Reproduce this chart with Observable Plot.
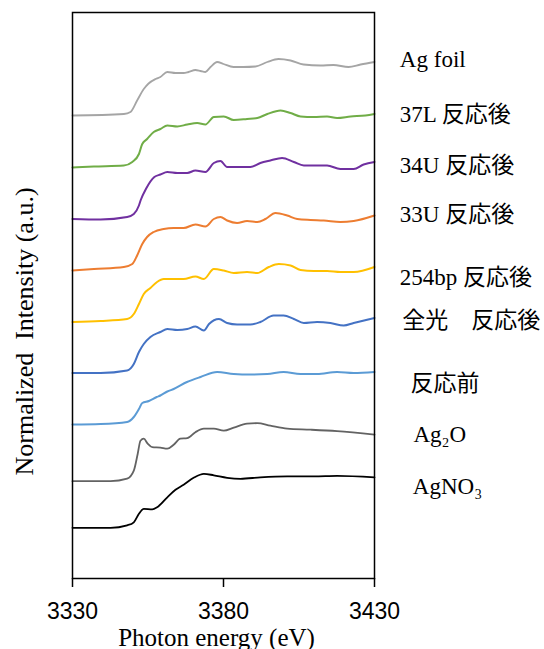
<!DOCTYPE html>
<html>
<head>
<meta charset="utf-8">
<script src="https://cdn.jsdelivr.net/npm/d3@7"></script>
<script src="https://cdn.jsdelivr.net/npm/@observablehq/plot@0.6"></script>
<style>
  html, body { margin: 0; padding: 0; background: #fff; }
</style>
</head>
<body>
<div id="chart"></div>
<script>
// ---- Data: [photon energy (eV), normalized intensity] ----
const agFoil = [[3330,0],[3347,0.03],[3349.2,0.07],[3351.4,0.30],[3353.6,0.53],[3355.2,0.64],[3357.5,0.73],[3359.1,0.77],[3361.4,0.87],[3364.1,0.85],[3366.8,0.85],[3368.4,0.87],[3370.7,0.91],[3372.4,0.89],[3374,0.87],[3375.7,0.97],[3377.9,1.07],[3380,1.03],[3383.3,0.97],[3386.6,0.97],[3390.6,0.98],[3394.5,1.07],[3398.2,1.13],[3402.2,1.10],[3406.5,1.02],[3412.1,1.00],[3416.4,1.01],[3421.4,0.97],[3425.4,1.02],[3430,1.07]];
const s37L = [[3330,0],[3337.1,0.02],[3347,0.04],[3349.8,0.11],[3352,0.27],[3353.1,0.47],[3354.7,0.57],[3356.9,0.71],[3359.1,0.77],[3361.4,0.84],[3364.7,0.82],[3368,0.86],[3371.3,0.89],[3374,0.86],[3376.8,1.01],[3380.1,1.02],[3383.4,0.95],[3387.8,0.97],[3391.2,0.99],[3394.5,1.07],[3398.9,1.14],[3402.2,1.09],[3405.5,1.02],[3409.9,1.01],[3414.3,1.02],[3417.6,0.99],[3422.1,1.02],[3427,1.04],[3430,1.07]];
const s34U = [[3330,0],[3339.3,-0.01],[3348.1,0.04],[3350.3,0.10],[3352,0.27],[3352.6,0.38],[3354.3,0.60],[3357.1,0.84],[3359.1,0.89],[3361.4,0.94],[3364.7,0.92],[3368,0.92],[3370.7,0.97],[3374,0.94],[3376.8,1.12],[3379,1.16],[3381.2,1.04],[3384.5,1.04],[3388.9,1.04],[3392.2,1.12],[3395.5,1.17],[3399.4,1.22],[3403.3,1.14],[3406.6,1.07],[3411,1.07],[3414.3,1.07],[3418.7,1.00],[3423.1,1.00],[3426.4,1.09],[3430,1.14]];
const s33U = [[3330,-0.02],[3337.1,0.01],[3347,0.05],[3349.8,0.11],[3351.4,0.28],[3353.1,0.51],[3354.7,0.65],[3356.9,0.75],[3360.2,0.81],[3363.5,0.83],[3366.8,0.83],[3370.7,0.90],[3374,0.86],[3376.8,1.01],[3379,1.05],[3381.2,0.98],[3384.5,0.93],[3387.8,0.97],[3391.2,0.95],[3393.9,1.01],[3397.2,1.13],[3401.1,1.08],[3404.4,1.01],[3408.8,0.99],[3413.2,0.98],[3418.7,0.95],[3423.1,0.97],[3430,1.08]];
const s254bp = [[3330,-0.01],[3339.3,0.01],[3348.1,0.05],[3350.3,0.15],[3352,0.35],[3353.6,0.55],[3355.8,0.67],[3358,0.79],[3360.2,0.85],[3363.5,0.85],[3366.8,0.85],[3370.7,0.90],[3373.5,0.85],[3376.8,1.05],[3380.1,1.02],[3383.4,0.97],[3387.8,0.99],[3391.2,0.97],[3395,1.09],[3398.3,1.15],[3402.2,1.12],[3405.5,1.03],[3409.9,1.01],[3414.3,1.01],[3418.7,0.99],[3423.1,0.99],[3430,1.09]];
const sZenko = [[3330,0],[3339.3,0],[3348.1,0.05],[3350.3,0.18],[3352,0.42],[3353.6,0.58],[3355.8,0.72],[3359.1,0.82],[3361.4,0.88],[3364.7,0.86],[3368,0.88],[3370.7,0.93],[3373.5,0.85],[3375.2,0.98],[3378.5,1.08],[3381.2,1.00],[3384.5,0.97],[3388.9,0.97],[3392.2,1.02],[3396.6,1.15],[3399.9,1.15],[3403.3,1.08],[3406.6,1.00],[3411,1.02],[3415.4,1.00],[3419.8,0.95],[3423.1,1.00],[3430,1.10]];
const sBefore = [[3330,-0.01],[3339.3,0],[3348.1,0.04],[3350.3,0.14],[3352,0.30],[3353.1,0.42],[3355.3,0.46],[3357.9,0.54],[3359.1,0.57],[3361.4,0.65],[3363.5,0.70],[3367.9,0.84],[3372.4,0.94],[3377.9,1.04],[3383.4,1.00],[3388.9,0.99],[3394.5,1.00],[3399.9,1.04],[3405.5,1.00],[3411,1.00],[3417.6,1.04],[3423.1,1.02],[3430,1.04]];
const sAg2O = [[3330,0],[3342.6,0],[3348.1,0.05],[3350.3,0.21],[3351.6,0.55],[3352.5,0.81],[3353.6,0.85],[3354.9,0.75],[3356.4,0.68],[3359.1,0.67],[3361.4,0.65],[3363.5,0.73],[3365.7,0.85],[3368,0.86],[3370.7,0.98],[3373.5,1.05],[3376.8,1.05],[3380.1,1.01],[3383.4,1.07],[3387.8,1.15],[3391.2,1.16],[3395.5,1.11],[3401.1,1.05],[3408.8,1.03],[3417.6,1.00],[3430,0.93]];
const sAgNO3 = [[3330,0],[3342.6,0],[3348.1,0.05],[3350.3,0.11],[3352,0.28],[3353.6,0.38],[3356.4,0.37],[3358,0.41],[3361.4,0.61],[3364.1,0.76],[3366.8,0.86],[3370.1,1.00],[3373.5,1.08],[3376.8,1.05],[3381.2,1.00],[3385.6,0.98],[3392.2,1.01],[3401.1,1.03],[3409.9,1.03],[3417.6,1.04],[3430,1.01]];

const seriesNames = ["Ag foil", "37L 反応後", "34U 反応後", "33U 反応後", "254bp 反応後", "全光　反応後", "反応前", "Ag₂O", "AgNO₃"];
const seriesData = [agFoil, s37L, s34U, s33U, s254bp, sZenko, sBefore, sAg2O, sAgNO3];
const seriesOffsets = [9.26, 8.22, 7.19, 6.18, 5.14, 4.11, 3.09, 1.946, 1.014];
const seriesColors = ["#A5A5A5", "#70AD47", "#7030A0", "#ED7D31", "#FFC000", "#4472C4", "#5B9BD5", "#636363", "#000000"];
const noisy = [false, true, true, true, true, true, true, false, false];
// label anchor positions (data units)
const labelX = [3438.4, 3438.4, 3438.4, 3438.4, 3438.4, 3439.2, 3441.9, 3442.9, 3442.7];
const labelY = [10.38, 9.28, 8.26, 7.28, 6.02, 5.16, 3.90, 2.88, 1.84];
const xTicks = [3330, 3380, 3430];

const rows = seriesData.flatMap((pts, i) =>
  pts.map(([e, v]) => ({series: seriesNames[i], energy: e, value: seriesOffsets[i] + v, color: seriesColors[i], noisy: noisy[i]}))
);
const labels = seriesNames.map((name, i) => ({name, x: labelX[i], y: labelY[i]}));

const serif = "'Liberation Serif', 'DejaVu Serif', 'Noto Sans CJK JP', serif";

const chart = Plot.plot({
  width: 544,
  height: 649,
  marginTop: 12,
  marginBottom: 71,
  marginLeft: 72,
  marginRight: 170,
  style: {background: "#fff", fontFamily: serif},
  x: {domain: [3330, 3430]},
  y: {domain: [0, 11.32], axis: null},
  marks: [
    Plot.line(rows.filter(d => d.noisy), {x: "energy", y: "value", z: "series", stroke: "color", strokeWidth: 2, curve: "monotone-x"}),
    Plot.line(rows.filter(d => !d.noisy), {x: "energy", y: "value", z: "series", stroke: "color", strokeWidth: 1.8, curve: "monotone-x"}),
    Plot.frame({stroke: "#000", strokeWidth: 1.5}),
    Plot.axisX({ticks: xTicks, tickFormat: "d", tickSize: 9, tickPadding: 15, strokeWidth: 1.5, stroke: "#000",
      fontSize: 23, fontFamily: "'Liberation Sans', Arial, sans-serif", fill: "#000", label: null}),
    Plot.text(labels, {x: "x", y: "y", text: "name", textAnchor: "start", fontSize: 23, fill: "#000", fontFamily: serif}),
    Plot.text(["Photon energy (eV)"], {frameAnchor: "bottom", textAnchor: "middle", lineAnchor: "middle", dx: -7, dy: 59, fontSize: 25, fill: "#000", fontFamily: serif}),
    Plot.text(["Normalized  Intensity (a.u.)"], {frameAnchor: "left", textAnchor: "middle", lineAnchor: "middle", rotate: -90, dx: -48, dy: 36, fontSize: 26, fill: "#000", fontFamily: serif, style: "white-space: pre"})
  ]
});
document.getElementById("chart").appendChild(chart);
</script>
</body>
</html>
